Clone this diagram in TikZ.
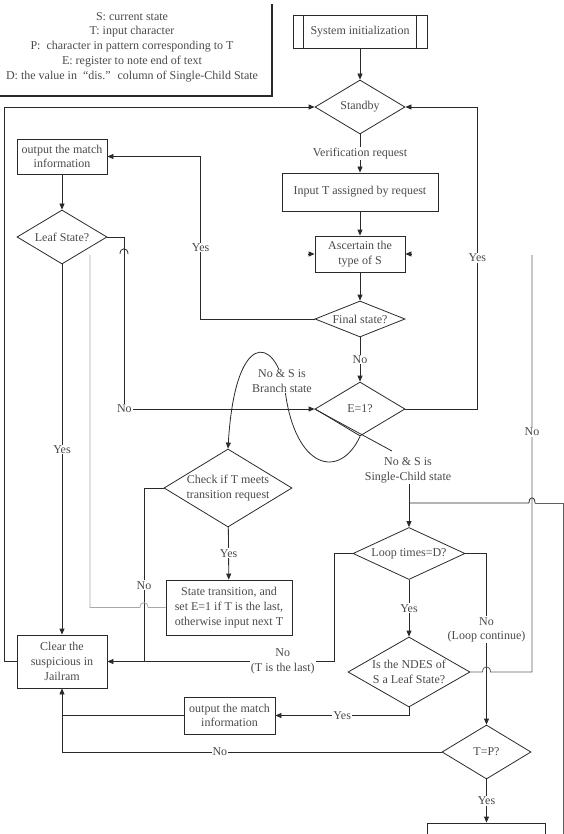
\documentclass[tikz,border=0pt]{standalone}
\usepackage{fontspec}
\setmainfont{Liberation Serif}
\usetikzlibrary{shapes.geometric,arrows.meta,calc}
\definecolor{txtc}{HTML}{4A4A4A}
\definecolor{linec}{HTML}{2A2A2A}
\definecolor{fadec}{HTML}{A8A8A8}
\definecolor{midc}{HTML}{606060}
\begin{document}
\begin{tikzpicture}[x=1pt,y=-1pt, line width=0.8pt,
  every node/.style={font=\fontsize{12}{14.7}\selectfont, text=txtc},
  box/.style={draw=linec, rectangle, align=center, inner sep=1pt},
  dia/.style={draw=linec, diamond, inner sep=0pt},
  txt/.style={align=center, text=txtc, inner sep=1pt},
  lbl/.style={fill=white, inner sep=1pt, align=center},
  arr/.style={-{Triangle[length=6pt,width=5pt]}},
  conn/.style={draw=linec}]
\useasboundingbox (0,0) rectangle (564,834);

% legend
\node[txt] (legend) at (132,47) {S: current state\\T: input character\\P:\ \ character in pattern corresponding to T\\E: register to note end of text\\D: the value in \ “dis.” \ column of Single-Child State};
\draw[linec, line width=1.4pt] (272,4) -- (272,96) -- (0,96);

% nodes
\node[box, minimum width=134pt, minimum height=33pt] (init) at (360,31.5) {System initialization};
\draw[linec] ($(init.north west)+(11,0)$) -- ($(init.south west)+(11,0)$);
\draw[linec] ($(init.north east)+(-11,0)$) -- ($(init.south east)+(-11,0)$);
\node[dia, minimum width=90pt, minimum height=54pt, label={[txt]center:Standby}] (standby) at (360,107) {};
\node[box, minimum width=156pt, minimum height=38pt] (input) at (360,192) {Input T assigned by request};
\node[box, minimum width=90pt, minimum height=36pt] (asc) at (360,254) {Ascertain the\\type of S};
\node[dia, minimum width=90pt, minimum height=36pt, label={[txt]center:Final state?}] (final) at (360,319) {};
\node[dia, minimum width=90pt, minimum height=54pt, label={[txt]center:E=1?}] (E) at (360,409) {};
\node[box, minimum width=90pt, minimum height=35pt] (out1) at (62,156.5) {output the match\\information};
\node[dia, minimum width=90pt, minimum height=54pt, label={[txt]center:Leaf State?}] (leaf) at (62,237) {};
\node[box, minimum width=90pt, minimum height=53pt] (clear) at (62,661.5) {Clear the\\suspicious in\\Jailram};
\node[dia, minimum width=128pt, minimum height=78pt, label={[txt]center:{Check if T meets\\transition request}}] (check) at (228,488) {};
\node[box, minimum width=126pt, minimum height=55pt] (state) at (229,607.5) {State transition, and\\set E=1 if T is the last,\\otherwise input next T};
\node[dia, minimum width=112pt, minimum height=52pt, label={[txt]center:Loop times=D?}] (loop) at (409,553.5) {};
\node[dia, minimum width=122pt, minimum height=70pt, label={[txt]center:{Is the NDES of\\S a Leaf State?}}] (ndes) at (409,672) {};
\node[box, minimum width=91pt, minimum height=37pt] (out2) at (229.5,715.5) {output the match\\information};
\node[dia, minimum width=89pt, minimum height=54pt, label={[txt]center:T=P?}] (tp) at (486.5,752) {};
\node[box, minimum width=118pt, minimum height=40pt] (last) at (486.5,843) {};
\node[lbl] (sc) at (408,470) {No \& S is\\Single-Child state};

% coordinates
\coordinate (scend) at (392,451);
\coordinate (jn) at (409,503);
\coordinate (rb) at (563,850);
\coordinate (j1) at (144,661.5);
\coordinate (j2) at (62,715.5);
\coordinate (g1) at (90,255);
\coordinate (g2) at (532,255);

% connectors
\draw[conn,arr] (init) -- (standby);
\draw[conn,arr] (standby) -- node[lbl]{Verification request} (input);
\draw[conn,arr] (input) -- (asc);
\draw[conn,arr] (asc) -- (final);
\draw[conn,arr] (final) -- node[lbl]{No} (E);
\draw[conn,arr] (final.west) -- ++(-114,0) |- node[lbl, pos=0.22]{Yes} (out1.east);
\draw[conn,arr] (out1) -- (leaf);
\draw[conn,arr] (leaf) -- node[lbl]{Yes} (clear);
\draw[conn,arr] (leaf.east) -- ++(17,0) |- node[lbl, pos=0.5]{No} (E.west);
\draw[conn] (120,254) .. controls (120,247) and (128,247) .. (128,254);
\draw[conn,arr] (E.east) -- ++(72,0) |- node[lbl,pos=0.25]{Yes} (standby.east);
\draw[conn,arr] (clear.west) -- ++(-12,0) |- (standby.west);
\draw[conn,arr] (E.south) .. controls (340,480) and (295,470) .. (285,390) .. controls (275,335) and (235,330) .. (check.north);
\node[lbl] (br) at (282,381) {No \& S is\\Branch state};
\draw[conn] (E.west) -- (scend);
\draw[conn,arr] (sc.south -| loop.north) -- (loop.north);
\draw[midc] (rb) -- (563,503) -- (535,503);
\draw[conn] (535,503) .. controls (535,496) and (529,496) .. (529,503) -- (jn);
\draw[conn,arr] (loop.west) -- ++(-18,0) |- node[lbl, pos=0.614]{No\\(T is the last)} (clear.east);
\draw[conn] (check.west) -| node[lbl, pos=0.78]{No} (j1);
\draw[conn,arr] (check) -- node[lbl]{Yes} (state);
\draw[fadec] (state.west) -- (148,607.5) .. controls (148,601) and (140,601) .. (140,607.5) -| (g1);
\draw[conn,arr] (loop) -- node[lbl]{Yes} (ndes);
\draw[conn,arr] (loop.east) -| node[lbl,pos=0.723]{No\\(Loop continue)} (tp.north);
\draw[midc] (ndes.east) -- (482.5,672) .. controls (482.5,665) and (490.5,665) .. (490.5,672) -| node[lbl,pos=0.788]{No} (g2);
\draw[conn,arr] (ndes.south) |- node[lbl,pos=0.75]{Yes} (out2.east);
\draw[conn] (out2.west) -- (j2);
\draw[conn,arr] (tp.west) -| node[lbl,pos=0.292]{No} (clear.south);
\draw[conn,arr] (tp) -- node[lbl]{Yes} (last);
\draw[conn,arr] ($(asc.west)+(-7,0)$) -- (asc.west);
\draw[conn,arr] ($(asc.east)+(7,0)$) -- (asc.east);
\end{tikzpicture}
\end{document}
